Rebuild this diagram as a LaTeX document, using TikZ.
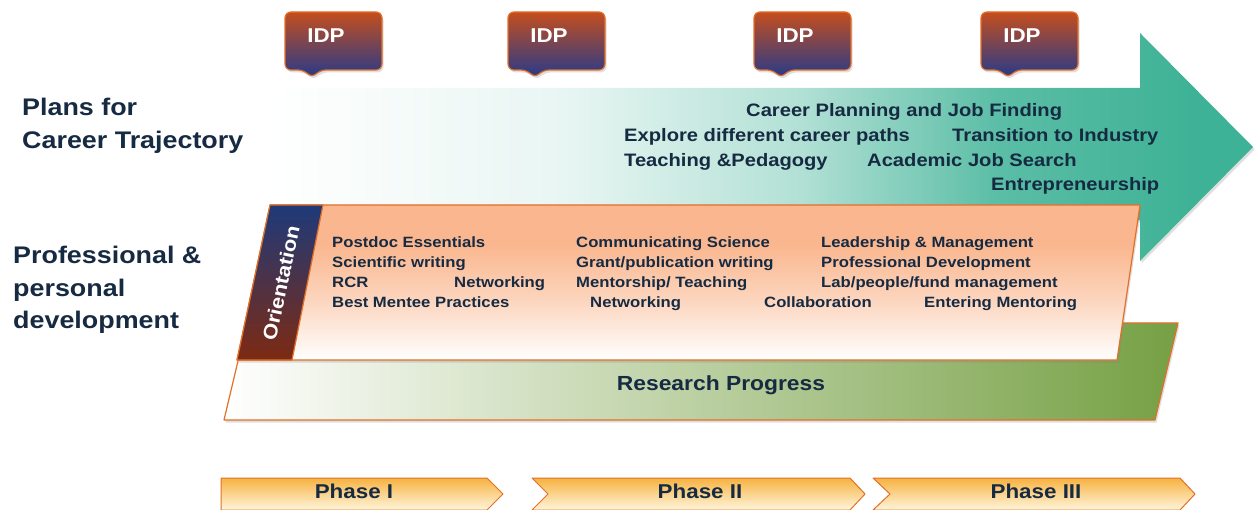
\documentclass[tikz,border=0pt]{standalone}
\usepackage{fontspec}
\setmainfont{Liberation Sans}[FakeStretch=1.12]
\usetikzlibrary{shadows}
\definecolor{navytext}{RGB}{22,42,66}
\definecolor{tealarrow}{RGB}{62,178,150}
\definecolor{salmonband}{RGB}{250,183,143}
\definecolor{bandline}{RGB}{226,112,40}
\definecolor{idptop}{RGB}{196,78,30}
\definecolor{idpbottom}{RGB}{36,58,140}
\definecolor{orinavy}{RGB}{30,58,122}
\definecolor{oribrown}{RGB}{125,42,18}
\definecolor{researchgreen}{RGB}{118,160,68}
\definecolor{phasetop}{RGB}{247,178,66}
\definecolor{phasebottom}{RGB}{255,246,220}
\pgfdeclarehorizontalshading{careershade}{100bp}{color(0bp)=(white); color(25bp)=(white); color(40bp)=(tealarrow!12); color(52bp)=(tealarrow!40); color(62bp)=(tealarrow!85); color(72bp)=(tealarrow); color(100bp)=(tealarrow)}
\pgfdeclareverticalshading{profshade}{100bp}{color(0bp)=(white); color(25bp)=(white); color(45bp)=(salmonband!60); color(62bp)=(salmonband); color(100bp)=(salmonband)}
\begin{document}
\begin{tikzpicture}[x=1pt,y=-1pt,line join=round]
	\tikzset{every node/.style={inner sep=0pt, text=navytext},
		sidelbl/.style={anchor=base west, font=\fontsize{24}{27}\selectfont\bfseries},
		careerlbl/.style={anchor=base west, font=\fontsize{18}{21}\selectfont\bfseries},
		devlbl/.style={anchor=base west, font=\fontsize{14.9}{17}\selectfont\bfseries},
		phaselbl/.style={anchor=base, font=\fontsize{20}{23}\selectfont\bfseries},
		softshadow/.style={drop shadow={opacity=.25, shadow xshift=1.5pt, shadow yshift=-2.5pt}},
		idpbox/.style={top color=idptop, bottom color=idpbottom, draw=bandline, line width=1.2pt, softshadow},
		phasebox/.style={top color=phasetop, bottom color=phasebottom, draw=bandline, line width=1pt},
		band/.style={draw=bandline, line width=1.2pt, softshadow}}
	\useasboundingbox (0,0) rectangle (1255,510);
	\shade[shading=careershade, softshadow] (270,88) -- (1140,88) -- (1140,33) -- (1253,147) -- (1140,261) -- (1140,220) -- (270,220) -- cycle;
	\foreach \lx/\nm in {285/1,508/2,754/3,981/4}{
		\draw[idpbox, rounded corners=6pt] (\lx,12) -- (\lx+97,12) -- (\lx+97,70) -- (\lx+35,70) -- (\lx+27,78) -- (\lx+19,70) -- (\lx,70) -- cycle;
		\node[anchor=base, text=white, font=\fontsize{20}{23}\selectfont\bfseries] (idp\nm) at (\lx+41,43) {IDP};
	}
	\shade[band, left color=white, right color=researchgreen] (247,323) -- (1178,323) -- (1155,420) -- (224,420) -- cycle;
	\shade[band, shading=profshade] (270,205) -- (1140,205) -- (1117,360) -- (237,360) -- cycle;
	\shade[top color=orinavy, bottom color=oribrown, draw=bandline, line width=1.2pt] (270,205) -- (323,205) -- (292,360) -- (237,360) -- cycle;
	\node[rotate=78, text=white, font=\fontsize{19.5}{22}\selectfont\bfseries] (orient) at (281,283) {Orientation};
	\node[sidelbl] (plans1) at (22,116) {Plans for};
	\node[sidelbl] (plans2) at (22,149) {Career Trajectory};
	\node[sidelbl] (prof1) at (13,264) {Professional \&};
	\node[sidelbl] (prof2) at (13,297) {personal};
	\node[sidelbl] (prof3) at (13,329) {development};
	\foreach \x/\y/\t [count=\i] in {746/117/{Career Planning and Job Finding}, 624/142/{Explore different career paths}, 952/142/{Transition to Industry}, 624/167/{Teaching \&Pedagogy}, 867/167/{Academic Job Search}, 991/191/{Entrepreneurship}}
	\node[careerlbl] (career\i) at (\x,\y) {\t};
	\foreach \x/\y/\t [count=\i] in {332/248/{Postdoc Essentials}, 332/268/{Scientific writing}, 332/288/{RCR}, 454/288/{Networking}, 332/308/{Best Mentee Practices}, 576/248/{Communicating Science}, 576/268/{Grant/publication writing}, 576/288/{Mentorship/ Teaching}, 590/308/{Networking}, 821/248/{Leadership \& Management}, 821/268/{Professional Development}, 821/288/{Lab/people/fund management}, 764/308/{Collaboration}, 924/308/{Entering Mentoring}}
	\node[devlbl] (dev\i) at (\x,\y) {\t};
	\node[anchor=base, font=\fontsize{20.4}{23}\selectfont\bfseries] (research) at (721,390) {Research Progress};
	\shade[phasebox] (221,478) -- (487,478) -- (503,494) -- (487,510) -- (221,510) -- cycle;
	\shade[phasebox] (532,478) -- (850,478) -- (865,494) -- (850,510) -- (532,510) -- (548,494) -- cycle;
	\shade[phasebox] (873,478) -- (1180,478) -- (1195,494) -- (1180,510) -- (873,510) -- (890,494) -- cycle;
	\node[phaselbl] (ph1) at (354,498) {Phase I};
	\node[phaselbl] (ph2) at (700,498) {Phase II};
	\node[phaselbl] (ph3) at (1036,498) {Phase III};
\end{tikzpicture}
\end{document}
